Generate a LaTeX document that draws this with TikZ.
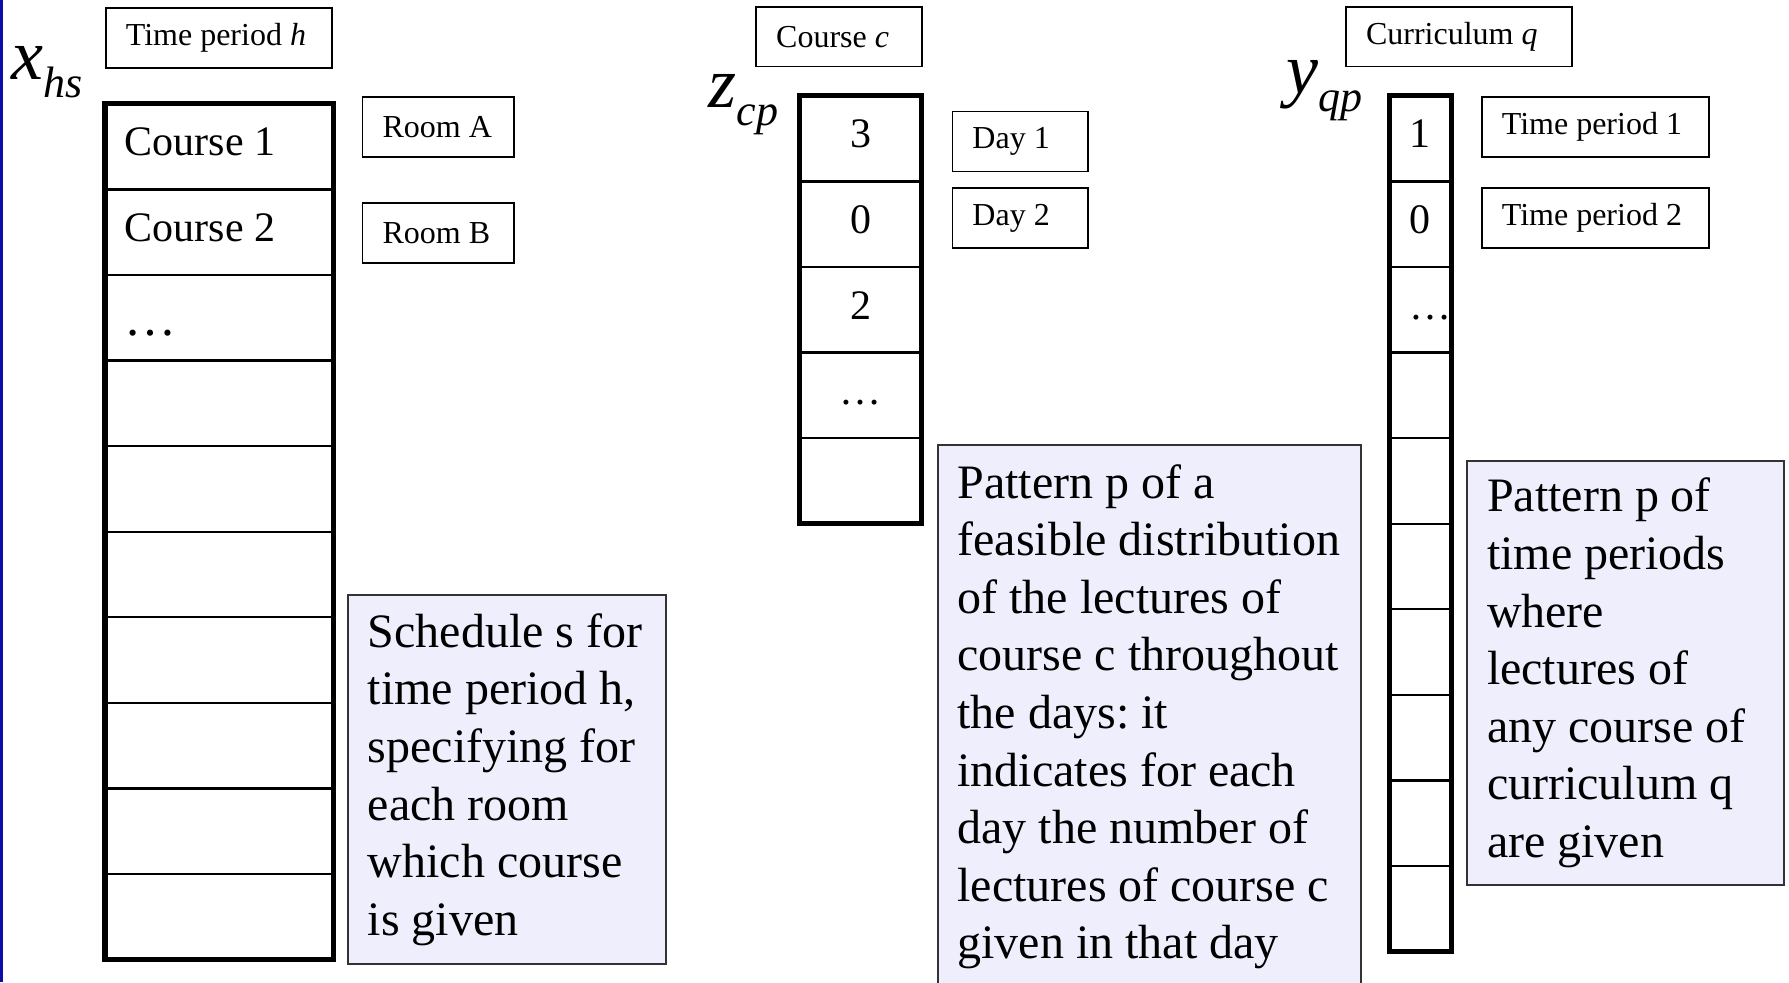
\documentclass[tikz,border=0pt]{standalone}
\usepackage{fontspec}
\setmainfont{Liberation Serif}
\usetikzlibrary{positioning,fit}
\definecolor{notefill}{RGB}{238,238,252}
\definecolor{slidebar}{RGB}{12,12,168}
\newcommand{\cellfont}{\fontsize{21}{25}\selectfont}
\newcommand{\varlabel}[2]{\textit{#1}\raisebox{-9pt}{\fontsize{22}{25}\selectfont\textit{#2}}}
\tikzset{
  plainspace/.style={execute at begin node={\spaceskip=0.25em\xspaceskip=0.25em\relax}},
  tagbox/.style={
    draw,
    line width=0.9pt,
    anchor=north west,
    align=left,
    inner xsep=10pt,
    inner ysep=0pt,
    minimum height=30pt,
    plainspace,
    font=\fontsize{16}{19}\selectfont
  },
  notebox/.style={
    draw=black!80,
    line width=0.9pt,
    fill=notefill,
    anchor=north west,
    align=left,
    inner xsep=10pt,
    inner ysep=0pt,
    plainspace,
    font=\fontsize{24}{28.8}\selectfont
  },
  cellbox/.style={draw, line width=1.2pt, inner sep=0pt, outer sep=0pt, plainspace,
    minimum height=42.79pt, text height=14.5pt, text depth=5.25pt, font=\cellfont},
  xcell/.style={cellbox, inner xsep=10pt, text width=94.1pt, align=left},
  zcell/.style={cellbox, text width=61.04pt, align=center},
  ycell/.style={cellbox, inner xsep=10pt, text width=10.81pt, align=left},
  colframe/.style={draw, line width=2.6pt, inner sep=0pt},
  varname/.style={anchor=base west, inner sep=0pt, font=\fontsize{36}{40}\selectfont}
}

\begin{document}
\begin{tikzpicture}[x=0.5705pt, y=-0.5705pt]
\useasboundingbox (0,0) rectangle (1568,861);
\fill[slidebar] (0,0) rectangle (3,861);

% schedule x_hs
\node[tagbox, text width=93pt] (period) at (92,6) {Time period \textit{h}};
\node[varname] (xvar) at (10,70) {\varlabel{x}{hs}};
\node[xcell, anchor=north west] (x1) at (92,91) {Course 1};
\node[xcell, below=0pt of x1] (x2) {Course 2};
\node[xcell, below=0pt of x2] (x3) {\raisebox{-4pt}{\fontsize{26}{30}\selectfont …}};
\foreach \i [count=\j from 4] in {3,...,9}
  \node[xcell, below=0pt of x\i] (x\j) {};
\node[colframe, fit=(x1)(x10)] (xcol) {};
\node[tagbox, text width=55.9pt] (roomA) at (317,84) {Room A};
\node[tagbox, text width=55.9pt] (roomB) at (317,177) {Room B};
\node[notebox, text width=139.2pt, minimum height=184.3pt] (schedule) at (304,521)
  {Schedule s for\\time period h,\\specifying for\\each room\\which course\\is given};

% pattern z_cp
\node[tagbox, text width=62.7pt] (course) at (662,5) {Course \textit{c}};
\node[varname] (zvar) at (621,94) {\varlabel{z}{cp}};
\node[zcell, anchor=north west] (z1) at (701,84) {3};
\node[zcell, below=0pt of z1] (z2) {0};
\node[zcell, below=0pt of z2] (z3) {2};
\node[zcell, below=0pt of z3] (z4) {…};
\node[zcell, below=0pt of z4] (z5) {};
\node[colframe, fit=(z1)(z5)] (zcol) {};
\node[tagbox, text width=47.9pt] (day1) at (834,97) {Day 1};
\node[tagbox, text width=47.9pt] (day2) at (834,164) {Day 2};
\node[notebox, text width=191.9pt, inner xsep=9.9pt, minimum height=272pt] (daypattern) at (821,389)
  {Pattern p of a\\feasible distribution\\of the lectures of\\course c throughout\\the days: it\\indicates for each\\day the number of\\lectures of course c\\given in that day};

% pattern y_qp
\node[tagbox, text width=93pt] (curriculum) at (1179,5) {Curriculum \textit{q}};
\node[varname] (yvar) at (1127,82) {\varlabel{y}{qp}};
\node[ycell, anchor=north west] (y1) at (1218,84) {1};
\node[ycell, below=0pt of y1] (y2) {0};
\node[ycell, below=0pt of y2] (y3) {…};
\foreach \i [count=\j from 4] in {3,...,9}
  \node[ycell, below=0pt of y\i] (y\j) {};
\node[colframe, fit=(y1)(y10)] (ycol) {};
\node[tagbox, text width=93.5pt] (period1) at (1298,84) {Time period 1};
\node[tagbox, text width=93.5pt] (period2) at (1298,164) {Time period 2};
\node[notebox, text width=138.6pt, minimum height=212.2pt] (periodpattern) at (1285,403)
  {Pattern p of\\time periods\\where\\lectures of\\any course of\\curriculum q\\are given};
\end{tikzpicture}
\end{document}
